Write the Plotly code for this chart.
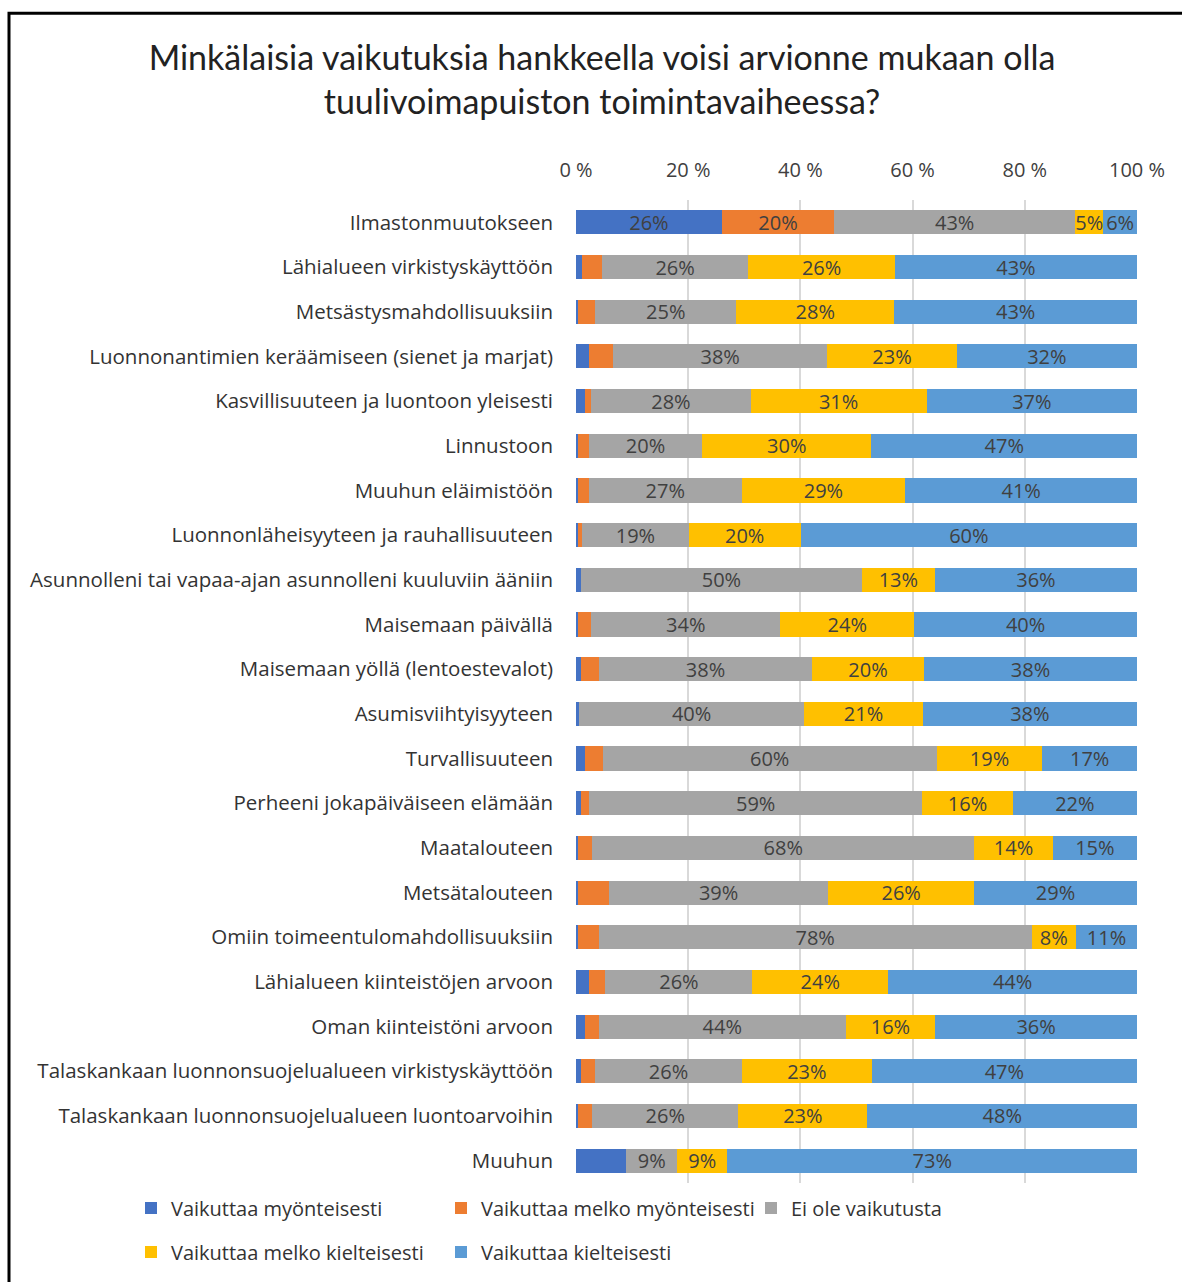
import plotly.graph_objects as go

categories = [
    "Ilmastonmuutokseen",
    "Lähialueen virkistyskäyttöön",
    "Metsästysmahdollisuuksiin",
    "Luonnonantimien keräämiseen (sienet ja marjat)",
    "Kasvillisuuteen ja luontoon yleisesti",
    "Linnustoon",
    "Muuhun eläimistöön",
    "Luonnonläheisyyteen ja rauhallisuuteen",
    "Asunnolleni tai vapaa-ajan asunnolleni kuuluviin ääniin",
    "Maisemaan päivällä",
    "Maisemaan yöllä (lentoestevalot)",
    "Asumisviihtyisyyteen",
    "Turvallisuuteen",
    "Perheeni jokapäiväiseen elämään",
    "Maatalouteen",
    "Metsätalouteen",
    "Omiin toimeentulomahdollisuuksiin",
    "Lähialueen kiinteistöjen arvoon",
    "Oman kiinteistöni arvoon",
    "Talaskankaan luonnonsuojelualueen virkistyskäyttöön",
    "Talaskankaan luonnonsuojelualueen luontoarvoihin",
    "Muuhun",
]

# shares of answers (%) per category, one list per answer option
myonteisesti = [26, 1.0, 0.4, 2.3, 1.6, 0.4, 0.4, 0.4, 0.9, 0.4, 0.9,
                0.5, 1.6, 0.9, 0.4, 0.4, 0.4, 2.3, 1.6, 0.9, 0.4, 9]
melko_myonteisesti = [20, 3.6, 3.0, 4.3, 1.1, 1.9, 1.9, 0.7, 0, 2.3, 3.2,
                      0, 3.2, 1.4, 2.5, 5.5, 3.7, 2.9, 2.5, 2.5, 2.5, 0]
ei_vaikutusta = [43, 26, 25, 38, 28, 20, 27, 19, 50, 34, 38,
                 40, 60, 59, 68, 39, 78, 26, 44, 26, 26, 9]
melko_kielteisesti = [5, 26, 28, 23, 31, 30, 29, 20, 13, 24, 20,
                      21, 19, 16, 14, 26, 8, 24, 16, 23, 23, 9]
kielteisesti = [6, 43, 43, 32, 37, 47, 41, 60, 36, 40, 38,
                38, 17, 22, 15, 29, 11, 44, 36, 47, 48, 73]

series_names = [
    "Vaikuttaa myönteisesti",
    "Vaikuttaa melko myönteisesti",
    "Ei ole vaikutusta",
    "Vaikuttaa melko kielteisesti",
    "Vaikuttaa kielteisesti",
]
series_values = [myonteisesti, melko_myonteisesti, ei_vaikutusta,
                 melko_kielteisesti, kielteisesti]
colors = ["#4472C4", "#ED7D31", "#A5A5A5", "#FFC000", "#5B9BD5"]
# data labels are shown on the first row for every option,
# elsewhere only for the three larger options
labelled_everywhere = [False, False, True, True, True]

x_ticks = [0, 20, 40, 60, 80, 100]
x_ticktext = ["0 %", "20 %", "40 %", "60 %", "80 %", "100 %"]

FONT = "Open Sans"
TITLE_FONT = "Lato"
W, H = 1182, 1282
ML, MR, MT, MB = 576, 45, 200, 98
PW, PH = W - ML - MR, H - MT - MB


def px_x(px):
    return (px - ML) / PW


def px_y(py):
    return (H - MB - py) / PH


fig = go.Figure()
for i, (name, vals, col) in enumerate(zip(series_names, series_values, colors)):
    texts = []
    for r, v in enumerate(vals):
        if r == 0 or labelled_everywhere[i]:
            texts.append(f"{v:g}%" if v else "")
        else:
            texts.append("")
    fig.add_trace(go.Bar(
        y=categories, x=vals, name=name, orientation="h",
        marker=dict(color=col, line=dict(width=0)),
        text=texts, textposition="inside", insidetextanchor="middle",
        textangle=0, constraintext="none",
        textfont=dict(family=FONT, size=20, color="#404040"),
        legend="legend" if i < 3 else "legend2",
        hoverinfo="x+y+name",
    ))

legend_common = dict(
    orientation="h", x=px_x(131), xanchor="left", yanchor="middle",
    traceorder="normal",
    font=dict(family=FONT, size=20, color="#333333"),
    entrywidth=265, entrywidthmode="pixels", bgcolor="rgba(0,0,0,0)",
)

fig.update_layout(
    width=W, height=H,
    margin=dict(l=ML, r=MR, t=MT, b=MB),
    barmode="stack", barnorm="percent", bargap=0.46,
    paper_bgcolor="white", plot_bgcolor="white",
    uniformtext=dict(minsize=20, mode="show"),
    font=dict(family=FONT, color="#333333"),
    title=dict(
        text="Minkälaisia vaikutuksia hankkeella voisi arvionne mukaan olla<br>"
             "tuulivoimapuiston toimintavaiheessa?",
        font=dict(family=TITLE_FONT, size=34, color="#222222"),
        x=602 / W, xref="container", xanchor="center",
        y=1 - 70 / H, yref="container", yanchor="top",
    ),
    xaxis=dict(
        side="top", range=[0, 100], tickvals=x_ticks, ticktext=x_ticktext,
        showgrid=True, gridcolor="#D9D9D9", gridwidth=2,
        zeroline=False, showline=False, ticks="",
        tickfont=dict(family=FONT, size=20, color="#404040"),
        ticklabelstandoff=18, fixedrange=True,
    ),
    yaxis=dict(
        autorange="reversed", showgrid=False, zeroline=False, showline=False,
        ticks="", tickfont=dict(family=FONT, size=20.5, color="#333333"),
        ticklabelstandoff=22, fixedrange=True,
    ),
    legend=dict(legend_common, y=px_y(1208)),
    legend2=dict(legend_common, y=px_y(1252)),
    showlegend=True,
)

# chart frame (left and top edges)
fig.add_shape(
    type="path", xref="paper", yref="paper",
    path=f"M {px_x(9)},{px_y(1300)} L {px_x(9)},{px_y(13)} L {px_x(1200)},{px_y(13)}",
    line=dict(color="black", width=3),
)

fig.write_html("out.html")
